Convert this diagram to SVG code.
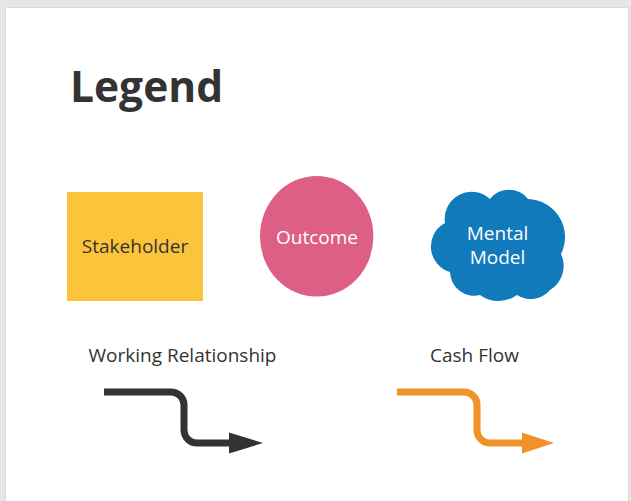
<svg xmlns="http://www.w3.org/2000/svg" width="631" height="501" viewBox="0 0 631 501">
  <style>
    .lbl { font-family: "Open Sans", "Liberation Sans", sans-serif; font-size: 19px; text-anchor: middle; }
    .dark { fill: #333333; }
    .light { fill: #ffffff; }
    .title { font-family: "Open Sans", "Liberation Sans", sans-serif; font-size: 42.5px; font-weight: bold; fill: #333333; }
    .conn { fill: none; stroke-width: 7; }
  </style>
  <rect x="0" y="0" width="631" height="501" fill="#e6e6e6"/>
  <rect x="5.5" y="7.5" width="623" height="500" fill="#ffffff" stroke="#dadada" stroke-width="1"/>
  <text class="title" x="70" y="102">Legend</text>

  <g id="stakeholder">
    <rect x="67" y="192" width="136" height="109" fill="#FBC43B"/>
    <text class="lbl dark" x="135" y="252.5">Stakeholder</text>
  </g>

  <g id="outcome">
    <ellipse cx="316.7" cy="236.3" rx="56.7" ry="60.3" fill="#DE5F85"/>
    <text class="lbl light" x="317" y="244">Outcome</text>
  </g>

  <g id="mental-model">
    <path d="M445 223 A27 27 0 0 1 490 199 A24 24 0 0 1 528 199 A38 38 0 0 1 561 254 A28 28 0 0 1 550 290 A25 25 0 0 1 517 295 A31.5 31.5 0 0 1 480 295 A24.3 24.3 0 0 1 450 272 A26.6 26.6 0 0 1 445 223 Z" fill="#117ABB"/>
    <text class="lbl light" x="497.5" y="240">Mental</text>
    <text class="lbl light" x="497.5" y="264">Model</text>
  </g>

  <g id="working-relationship">
    <text class="lbl dark" x="182.5" y="362">Working Relationship</text>
  </g>
  <g id="cash-flow">
    <text class="lbl dark" x="474.5" y="362">Cash Flow</text>
  </g>

  <g id="connectors">
    <path class="conn" stroke="#333333" d="M104 392 H171 A13 13 0 0 1 184 405 V430 A13 13 0 0 0 197 443 H232"/>
    <polygon fill="#333333" points="229,432.5 263,443 229,453.5"/>
    <path class="conn" stroke="#F0912A" d="M397 392 H464 A13 13 0 0 1 477 405 V430 A13 13 0 0 0 490 443 H525"/>
    <polygon fill="#F0912A" points="522,432.5 554,443 522,453.5"/>
  </g>
</svg>
